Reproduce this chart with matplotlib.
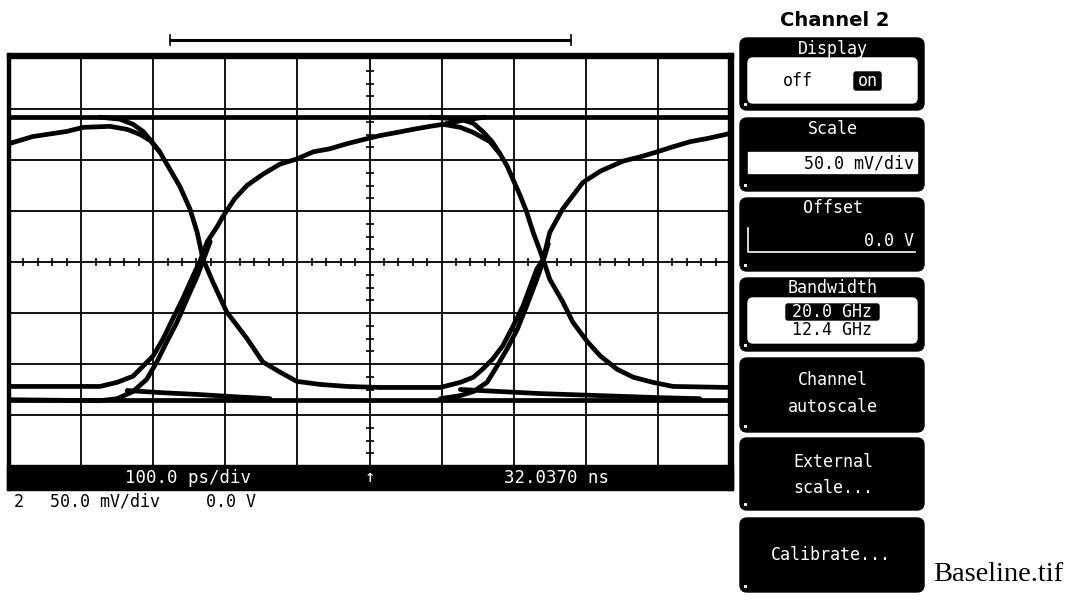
import matplotlib
matplotlib.use("Agg")
import matplotlib.pyplot as plt
from matplotlib.patches import Rectangle, FancyBboxPatch
import numpy as np

# --- waveform data: time in ps (100 ps/div), level in mV (50 mV/div) ---
top_ps = [0, 1000]
top_mv = [142, 142]
bottom_ps = [0, 1000]
bottom_mv = [-135, -135]

# high tail -> falling edge -> low -> rising edge -> slow rise
tr_a_ps = [0, 33, 80, 103, 140, 164, 182, 196, 209, 223, 237, 251, 261, 269,
           283, 302, 330, 352, 376, 399, 431, 469, 515, 598, 626, 644, 657,
           671, 685, 699, 713, 723, 732, 741, 750, 768, 782, 796, 820, 852,
           875, 899, 921, 945, 968, 1000]
tr_a_mv = [116, 123, 128, 132, 133, 130, 125, 119, 108, 91, 74, 52, 29, 3,
           -20, -49, -75, -98, -108, -117, -120, -122, -123, -123, -118, -113,
           -105, -95, -82, -63, -43, -24, -7, 3, 29, 52, 65, 78, 89, 99,
           103, 108, 113, 118, 121, 126]

# low -> rising edge -> slow rise -> falling edge -> low
tr_b_ps = [0, 126, 150, 172, 186, 200, 214, 227, 241, 255, 265, 275, 289,
           297, 313, 330, 352, 376, 399, 422, 445, 469, 497, 515, 538, 560,
           584, 602, 626, 644, 667, 681, 691, 699, 709, 718, 727, 737, 743,
           750, 768, 782, 802, 820, 843, 866, 893, 921, 1000]
tr_b_mv = [-122, -122, -118, -112, -102, -92, -75, -56, -36, -14, 1, 20, 35,
           45, 62, 75, 86, 96, 101, 108, 111, 116, 121, 124, 127, 130,
           133, 135, 132, 127, 118, 106, 94, 81, 65, 49, 29, 10, -2,
           -17, -39, -59, -78, -92, -105, -113, -118, -122, -123]

# rising edges starting from the lowest level
rise_l_ps = [0, 126, 150, 172, 191, 205, 219, 233, 247, 261, 269, 279]
rise_l_mv = [-135, -136, -134, -127, -115, -98, -78, -59, -36, -14, 1, 20]
rise_r_ps = [598, 626, 644, 663, 677, 691, 705, 718, 732, 741, 748]
rise_r_mv = [-134, -131, -127, -118, -102, -85, -66, -43, -17, 1, 18]

# falling edges leaving the top level
fall_l_ps = [126, 154, 172, 186, 198, 209]
fall_l_mv = [142, 140, 135, 128, 118, 108]
fall_r_ps = [584, 626, 644, 657, 670, 681]
fall_r_mv = [142, 140, 136, 128, 118, 106]

# slow rise merging into the top level
merge_ps = [602, 630, 660]
merge_mv = [135, 139, 142]

# low level settling toward the bottom level
settle_l_ps = [164, 209, 265, 311, 362]
settle_l_mv = [-126, -128, -130, -132, -134]
settle_r_ps = [626, 681, 737, 820, 903, 958]
settle_r_mv = [-125, -127, -129, -131, -133, -134]

traces = [
    (top_ps, top_mv), (bottom_ps, bottom_mv),
    (tr_a_ps, tr_a_mv), (tr_b_ps, tr_b_mv),
    (rise_l_ps, rise_l_mv), (rise_r_ps, rise_r_mv),
    (fall_l_ps, fall_l_mv), (fall_r_ps, fall_r_mv),
    (merge_ps, merge_mv),
    (settle_l_ps, settle_l_mv), (settle_r_ps, settle_r_mv),
]

W, H = 1081, 604
fig = plt.figure(figsize=(W / 100, H / 100), dpi=100)
fig.patch.set_facecolor("white")

# pixel-space layer for the screen furniture
bg = fig.add_axes([0, 0, 1, 1])
bg.set_xlim(0, W)
bg.set_ylim(H, 0)
bg.axis("off")

# graticule area
gx0, gx1, gy0, gy1 = 9, 730, 58, 466
ax = fig.add_axes([gx0 / W, 1 - gy1 / H, (gx1 - gx0) / W, (gy1 - gy0) / H])
ax.set_xlim(0, 1000)
ax.set_ylim(-200, 200)
ax.patch.set_alpha(0)
for s in ax.spines.values():
    s.set_visible(False)
ax.set_xticks([])
ax.set_yticks([])

for x in range(100, 1000, 100):
    ax.axvline(x, color="black", lw=1.3, zorder=1)
for y in range(-150, 200, 50):
    ax.axhline(y, color="black", lw=1.3, zorder=1)

# minor ticks on the centre cross
hx = [x for x in np.arange(0, 1001, 20) if x % 100 != 0]
ax.plot(hx, np.zeros(len(hx)), ls="", marker="|", ms=6, mew=1.2, color="black", zorder=1)
vy = [y for y in np.arange(-200, 201, 12.5) if y % 50 != 0]
ax.plot(np.full(len(vy), 500), vy, ls="", marker="_", ms=6, mew=1.2, color="black", zorder=1)

for xs, ys in traces:
    ax.plot(xs, ys, color="black", lw=3.4, solid_joinstyle="round",
            solid_capstyle="round", zorder=3)

# screen frame
bg.add_patch(Rectangle((7, 53), 726, 5, color="black"))
bg.add_patch(Rectangle((7, 53), 3, 437, color="black"))
bg.add_patch(Rectangle((728, 53), 5, 437, color="black"))
bg.add_patch(Rectangle((7, 465), 726, 25, color="black"))

# marker bar above the screen
bg.plot([169, 571], [40, 40], color="black", lw=2.2, solid_capstyle="butt")
bg.plot([170, 170], [35, 45], color="black", lw=1.2)
bg.plot([571, 571], [35, 45], color="black", lw=1.2)

mono = "DejaVu Sans Mono"
bg.text(188, 478, "100.0 ps/div", color="white", family=mono, fontsize=12.5,
        ha="center", va="center")
bg.text(370, 477, "\u2191", color="white", family=mono, fontsize=12.5,
        ha="center", va="center")
bg.text(557, 478, "32.0370 ns", color="white", family=mono, fontsize=12.5,
        ha="center", va="center")
bg.text(14, 502, "2", color="black", family=mono, fontsize=12, ha="left", va="center")
bg.text(50, 502, "50.0 mV/div", color="black", family=mono, fontsize=12, ha="left", va="center")
bg.text(206, 502, "0.0 V", color="black", family=mono, fontsize=12, ha="left", va="center")

# softkey panel
bg.text(835, 21, "Channel 2", color="black", family="DejaVu Sans", fontweight="bold",
        fontsize=14, ha="center", va="center")

px0, px1 = 740, 924
panels = [(38, 110), (118, 191), (198, 271), (278, 351), (358, 432), (438, 510), (518, 592)]
for top, bot in panels:
    bg.add_patch(FancyBboxPatch((px0, top), px1 - px0, bot - top,
                                boxstyle="round,pad=0,rounding_size=7",
                                fc="black", ec="black"))
    bg.plot([745], [bot - 6], marker="s", ms=1.2, color="white")

fs = 12
pkw = dict(color="white", family=mono, fontsize=fs, ha="center", va="center")

# Display
bg.text(833, 49, "Display", **pkw)
bg.add_patch(FancyBboxPatch((748, 58), 169, 45, boxstyle="round,pad=0,rounding_size=5",
                            fc="white", ec="white"))
bg.text(798, 81, "off", color="black", family=mono, fontsize=fs, ha="center", va="center")
bg.add_patch(FancyBboxPatch((854, 72), 27, 18, boxstyle="round,pad=0,rounding_size=2",
                            fc="black", ec="black"))
bg.text(867.5, 81, "on", color="white", family=mono, fontsize=fs, ha="center", va="center")

# Scale
bg.text(833, 129, "Scale", **pkw)
bg.add_patch(Rectangle((748, 152), 169, 21, fc="white", ec="white"))
bg.text(914, 163, "50.0 mV/div", color="black", family=mono, fontsize=fs,
        ha="right", va="center")

# Offset
bg.text(833, 208, "Offset", **pkw)
bg.plot([748, 748, 915], [228, 252, 252], color="white", lw=1.2)
bg.text(914, 241, "0.0 V", color="white", family=mono, fontsize=fs, ha="right", va="center")

# Bandwidth
bg.text(833, 288, "Bandwidth", **pkw)
bg.add_patch(FancyBboxPatch((748, 298), 169, 45, boxstyle="round,pad=0,rounding_size=5",
                            fc="white", ec="white"))
bg.add_patch(FancyBboxPatch((786, 304), 93, 16, boxstyle="round,pad=0,rounding_size=2",
                            fc="black", ec="black"))
bg.text(832, 312, "20.0 GHz", color="white", family=mono, fontsize=fs, ha="center", va="center")
bg.text(832, 330, "12.4 GHz", color="black", family=mono, fontsize=fs, ha="center", va="center")

bg.text(833, 380, "Channel", **pkw)
bg.text(833, 407, "autoscale", **pkw)
bg.text(833, 462, "External", **pkw)
bg.text(833, 488, "scale...", **pkw)
bg.text(831, 555, "Calibrate...", **pkw)

bg.text(933, 581, "Baseline.tif", color="black", family="Liberation Serif",
        fontsize=20.5, ha="left", va="baseline")

fig.savefig("out.png", dpi=100, facecolor="white")
